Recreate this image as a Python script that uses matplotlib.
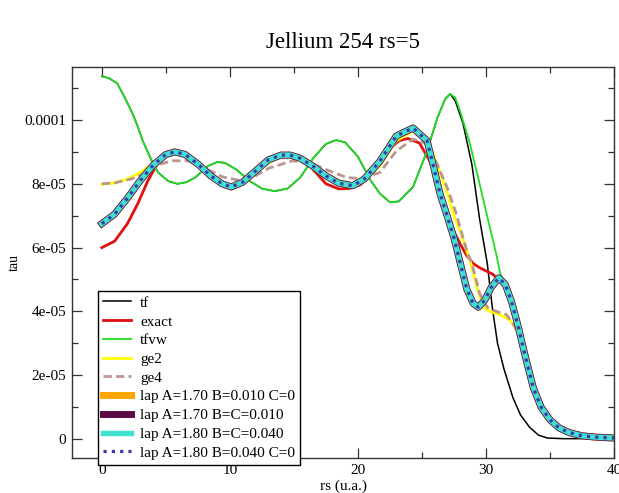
import matplotlib
matplotlib.use("Agg")
import matplotlib.pyplot as plt
from matplotlib.ticker import FixedLocator, MultipleLocator
import numpy as np

plt.rcParams['font.family'] = ['Liberation Serif', 'DejaVu Serif']
plt.rcParams['lines.solid_joinstyle'] = 'round'
plt.rcParams['lines.dash_joinstyle'] = 'round'

### Data (tau in units of 1e-5) ###
tf_x = [0, 0.6, 1.2, 1.8, 2.4, 2.8, 3.2, 3.9, 4.4, 5.2, 5.9, 6.6, 7.3, 8.3, 9.0, 9.6,
        10.5, 11.5, 12.5, 13.5, 14.5, 15.5, 16.5, 17.5, 18.3, 19.0, 20.0, 21.0, 21.7,
        22.5, 23.2, 24.3, 25.4, 26.2, 26.8, 27.2, 27.6, 28.2, 28.9, 29.5, 30.1, 30.5,
        30.9, 31.4, 32.1, 32.7, 33.4, 34.1, 34.8, 36.0, 40.0]
tf_y = [11.38, 11.3, 11.15, 10.7, 10.2, 9.8, 9.34, 8.72, 8.35, 8.08, 8.0, 8.05, 8.2, 8.56,
        8.68, 8.66, 8.45, 8.1, 7.85, 7.77, 7.85, 8.2, 8.8, 9.25, 9.37, 9.3, 8.85, 8.1, 7.7,
        7.42, 7.45, 7.9, 9.03, 10.06, 10.65, 10.82, 10.6, 9.9, 8.6, 6.9, 5.5, 4.1,
        3.0, 2.2, 1.3, 0.75, 0.37, 0.12, 0.03, 0.01, 0.01]

tfvw_x = [0, 0.6, 1.2, 1.8, 2.4, 2.8, 3.2, 3.9, 4.4, 5.2, 5.9, 6.6, 7.3, 8.3, 9.0, 9.6,
          10.5, 11.5, 12.5, 13.5, 14.5, 15.5, 16.5, 17.5, 18.3, 19.0, 20.0, 21.0, 21.7,
          22.5, 23.2, 24.3, 25.4, 26.2, 26.8, 27.2, 27.6, 28.0, 28.75, 29.5, 30.2, 30.8,
          31.1, 31.5, 32.0, 32.5, 33.0, 33.7, 34.3, 35.0, 35.7, 36.5, 37.5, 38.5, 40.0]
tfvw_y = [11.38, 11.3, 11.15, 10.7, 10.2, 9.8, 9.34, 8.72, 8.35, 8.08, 8.0, 8.05, 8.2, 8.56,
          8.68, 8.66, 8.45, 8.1, 7.85, 7.77, 7.85, 8.2, 8.8, 9.25, 9.37, 9.3, 8.85, 8.1, 7.7,
          7.42, 7.45, 7.9, 9.03, 10.06, 10.65, 10.82, 10.7, 10.25, 9.25, 8.0, 6.8, 5.8,
          5.2, 4.85, 4.3, 3.55, 2.7, 1.6, 1.0, 0.6, 0.35, 0.2, 0.1, 0.06, 0.03]

exact_x = [0, 1, 2, 2.8, 3.6, 4.3, 5, 5.7, 6.5, 7.5, 8.5, 9.4, 10.1, 11, 12, 13, 14, 14.7,
           15.5, 16.5, 17.5, 18.5, 19.3, 20.2, 21, 22.3, 23.2, 23.9, 24.8, 25.6, 26.4, 27,
           27.5, 28, 28.5, 29, 29.5, 30, 30.5, 31, 31.5, 32, 32.5, 33, 33.7, 34.3, 35,
           35.7, 36.5, 37.5, 38.5, 40]
exact_y = [6.0, 6.2, 6.75, 7.37, 8.1, 8.6, 8.9, 9.0, 8.92, 8.6, 8.2, 7.95, 7.88, 8.05,
           8.45, 8.8, 8.95, 8.9, 8.8, 8.45, 8.0, 7.84, 7.85, 7.97, 8.35, 9.03, 9.35, 9.42,
           9.28, 8.72, 7.9, 7.1, 6.5, 6.1, 5.75, 5.5, 5.37, 5.27, 5.17, 5.0, 4.75, 4.15,
           3.5, 2.7, 1.6, 1.0, 0.6, 0.35, 0.2, 0.1, 0.06, 0.03]

ge2_x = [0, 1, 2, 3, 4, 5, 5.7, 6.5, 7.5, 8.5, 9.4, 10.1, 11, 12, 13, 14, 14.7, 15.5,
         16.5, 17.5, 18.5, 19.6, 20.5, 21.7, 23, 24.3, 25.4, 26.2, 26.95, 27.5, 28, 28.5,
         28.75, 29.3, 29.8, 30.4, 31.1, 31.9, 32.4, 33, 33.7, 34.3, 35, 35.7, 36.5, 37.5,
         38.5, 40]
ge2_y = [7.98, 8.03, 8.15, 8.35, 8.65, 8.88, 8.95, 8.88, 8.6, 8.28, 8.05, 7.95, 8.05,
         8.35, 8.65, 8.85, 8.87, 8.8, 8.6, 8.3, 8.1, 8.0, 8.1, 8.55, 9.35, 9.65, 9.4, 8.6,
         7.75, 7.0, 6.5, 5.9, 5.6, 4.75, 4.13, 3.98, 3.9, 3.72, 3.4, 2.65, 1.6, 1.0, 0.6,
         0.35, 0.2, 0.1, 0.06, 0.03]

ge4_x = [0, 1, 2.3, 3.4, 4.4, 5.5, 6.7, 8, 9.4, 10.8, 12, 13.1, 14.9, 16.25, 17.8, 19.1,
         20.2, 20.9, 21.7, 23, 24.3, 25.4, 26.2, 26.95, 27.6, 28, 28.5, 28.9, 29.5, 30.1,
         30.8, 31.6, 32.3, 33, 33.7, 34.3, 35, 35.7, 36.5, 37.5, 38.5, 40]
ge4_y = [8.0, 8.03, 8.15, 8.34, 8.6, 8.72, 8.72, 8.5, 8.22, 8.1, 8.25, 8.5, 8.72, 8.66,
         8.4, 8.2, 8.16, 8.25, 8.35, 9.03, 9.4, 9.25, 8.6, 7.9, 7.16, 6.6, 5.9, 5.5, 4.56,
         4.13, 4.0, 3.9, 3.5, 2.65, 1.6, 1.0, 0.6, 0.35, 0.2, 0.1, 0.06, 0.03]

# the four laplacian fits lie on top of each other
lap_x = [0, 1, 2, 3, 4, 5, 5.7, 6.5, 7.5, 8.5, 9.4, 10.1, 11, 12, 13, 14, 14.7, 15.5,
         16.5, 17.5, 18.5, 19.6, 20.5, 21.7, 23, 24.3, 25.4, 25.9, 26.4, 27, 27.5, 28,
         28.5, 29, 29.4, 29.9, 30.4, 31, 31.5, 32, 32.5, 33, 33.7, 34.3, 35, 35.7, 36.5,
         37.5, 38.5, 40]
lap_y = [6.75, 7.05, 7.55, 8.1, 8.58, 8.92, 9.0, 8.92, 8.62, 8.25, 8.0, 7.9, 8.05, 8.4,
         8.75, 8.9, 8.9, 8.8, 8.55, 8.25, 8.02, 7.94, 8.15, 8.7, 9.5, 9.75, 9.35, 8.55, 7.7,
         6.95, 6.3, 5.5, 4.7, 4.25, 4.13, 4.35, 4.75, 5.05, 4.85, 4.3, 3.55, 2.7, 1.6, 1.0,
         0.6, 0.35, 0.2, 0.1, 0.06, 0.03]

lap_labels = ['lap A=1.70 B=0.010 C=0', 'lap A=1.70 B=C=0.010',
              'lap A=1.80 B=C=0.040', 'lap A=1.80 B=0.040 C=0']

ytick_vals = [0, 2e-5, 4e-5, 6e-5, 8e-5, 1e-4]
ytick_labels = ['0', '2e-05', '4e-05', '6e-05', '8e-05', '0.0001']
xtick_vals = [0, 10, 20, 30, 40]

S = 1e-5

fig = plt.figure(figsize=(6.19, 4.93), dpi=100)
ax = fig.add_axes([0.1163, 0.071, 0.8757, 0.793])

ax.plot(tf_x, np.array(tf_y) * S, color='black', lw=1.1, label='tf')
ax.plot(exact_x, np.array(exact_y) * S, color='#e01010', lw=2.0, label='exact')
ax.plot(tfvw_x, np.array(tfvw_y) * S, color='#22dd22', lw=1.3, label='tfvw')
ax.plot(ge2_x, np.array(ge2_y) * S, color='#ffff00', lw=2.0, label='ge2')
ax.plot(ge4_x, np.array(ge4_y) * S, color='#bc9590', lw=2.0,
        linestyle=(0, (3, 1.5)), label='ge4')
ax.plot(lap_x, np.array(lap_y) * S, color='#ffa500', lw=5.0, label=lap_labels[0])
ax.plot(lap_x, np.array(lap_y) * S, color='#5c0a45', lw=5.0, label=lap_labels[1])
ax.plot(lap_x, np.array(lap_y) * S, color='#40e0d0', lw=3.9, label=lap_labels[2])
ax.plot(lap_x, np.array(lap_y) * S, color='#3a3aa8', lw=2.3,
        linestyle=(0, (1, 1.6)), label=lap_labels[3])

ax.set_xlim(-2.33, 40)
ax.set_ylim(-0.596e-5, 11.66e-5)
ax.xaxis.set_major_locator(FixedLocator(xtick_vals))
ax.xaxis.set_minor_locator(MultipleLocator(5))
ax.yaxis.set_major_locator(FixedLocator(ytick_vals))
ax.set_yticklabels(ytick_labels)
ax.yaxis.set_minor_locator(MultipleLocator(1e-5))
ax.tick_params(which='both', direction='in', top=True, right=True, labelsize=11,
               width=0.9, color='#333333')
ax.tick_params(which='major', length=7, pad=4)
ax.tick_params(which='minor', length=4)
for sp in ax.spines.values():
    sp.set_color('#333333')
    sp.set_linewidth(1.0)

ax.set_xlabel('rs (u.a.)', fontsize=11, labelpad=2)
ax.set_ylabel('tau', fontsize=10, labelpad=3)
ax.set_title('Jellium 254 rs=5', fontsize=16.5, pad=14)

leg = ax.legend(loc='lower left', bbox_to_anchor=(0.048, -0.018), borderaxespad=0,
                fontsize=11, handlelength=1.8, handletextpad=0.6, labelspacing=0.33,
                borderpad=0.35, fancybox=False, framealpha=1, edgecolor='black')
leg.get_frame().set_linewidth(1.0)
leg.set_clip_on(False)

fig.savefig('out.png', dpi=100)
